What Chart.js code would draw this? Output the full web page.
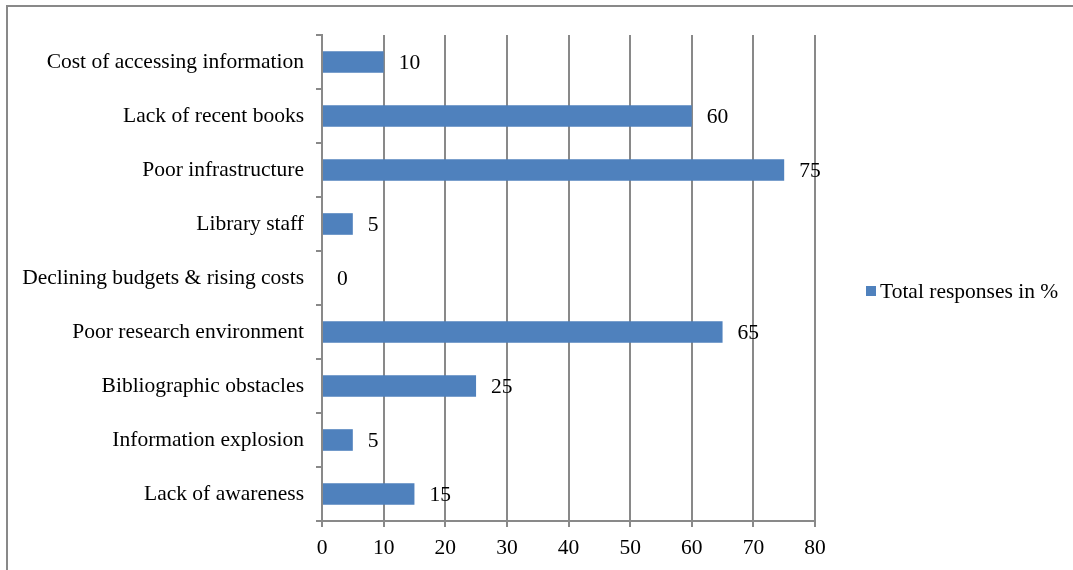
<!DOCTYPE html>
<html>
<head>
<meta charset="utf-8">
<script src="https://cdn.jsdelivr.net/npm/chart.js@4.4.1/dist/chart.umd.min.js"></script>
<style>
  html, body { margin: 0; padding: 0; background: #fff; overflow: hidden; }
  #frame { position: absolute; left: 6px; top: 5px; width: 1200px; height: 700px; border: 2px solid #898989; }
  #wrap { position: absolute; left: 0; top: 0; width: 1073px; height: 570px; }
</style>
</head>
<body>
<div id="frame"></div>
<div id="wrap"><canvas id="c" width="1073" height="570"></canvas></div>
<script>
const categories = [
  "Cost of accessing information",
  "Lack of recent books",
  "Poor infrastructure",
  "Library staff",
  "Declining budgets & rising costs",
  "Poor research environment",
  "Bibliographic obstacles",
  "Information explosion",
  "Lack of awareness"
];
const seriesName = "Total responses in %";
const seriesValues = [10, 60, 75, 5, 0, 65, 25, 5, 15];
const xTicks = [0, 10, 20, 30, 40, 50, 60, 70, 80];

const FONT = "'Liberation Serif', 'Times New Roman', serif";
const FSIZE = 21.5;
const GRID = '#898989';
const BAR = '#4F81BD';

const valueLabels = {
  id: 'valueLabels',
  afterDatasetsDraw(chart) {
    const ctx = chart.ctx;
    ctx.save();
    ctx.font = FSIZE + 'px ' + FONT;
    ctx.fillStyle = '#000';
    ctx.textBaseline = 'middle';
    ctx.textAlign = 'left';
    const meta = chart.getDatasetMeta(0);
    meta.data.forEach((el, i) => {
      const v = chart.data.datasets[0].data[i];
      ctx.fillText(String(v), el.x + 15, el.y + 1);
    });
    ctx.restore();
  }
};

const sideLegend = {
  id: 'sideLegend',
  afterDraw(chart) {
    const ctx = chart.ctx;
    const ds = chart.data.datasets[0];
    ctx.save();
    ctx.fillStyle = ds.backgroundColor;
    ctx.fillRect(866, 286, 10, 10);
    ctx.font = FSIZE + 'px ' + FONT;
    ctx.fillStyle = '#000';
    ctx.textBaseline = 'middle';
    ctx.textAlign = 'left';
    ctx.fillText(ds.label, 880, 292);
    ctx.restore();
  }
};

new Chart(document.getElementById('c'), {
  type: 'bar',
  data: {
    labels: categories,
    datasets: [{
      label: seriesName,
      data: seriesValues,
      backgroundColor: BAR,
      borderWidth: 0,
      barPercentage: 0.4,
      categoryPercentage: 1.0
    }]
  },
  options: {
    indexAxis: 'y',
    responsive: false,
    animation: false,
    devicePixelRatio: 1,
    layout: { padding: { left: 0, top: 35, right: 258, bottom: 0 } },
    plugins: {
      legend: { display: false },
      tooltip: { enabled: false }
    },
    scales: {
      x: {
        min: 0, max: 80,
        afterBuildTicks(s) { s.ticks = xTicks.map(v => ({ value: v })); },
        afterFit(s) { s.height = 570 - 521; },
        grid: { color: GRID, lineWidth: 2, drawTicks: true, tickLength: 6, tickColor: GRID },
        border: { color: GRID, width: 2 },
        ticks: { color: '#000', font: { family: FONT, size: FSIZE }, padding: 8, maxRotation: 0 }
      },
      y: {
        afterFit(s) { s.width = 322; },
        grid: { offset: true, drawOnChartArea: false, drawTicks: true, tickLength: 6, color: GRID, lineWidth: 2 },
        border: { color: GRID, width: 2 },
        ticks: { color: '#000', font: { family: FONT, size: FSIZE }, padding: 12 }
      }
    }
  },
  plugins: [valueLabels, sideLegend]
});
</script>
</body>
</html>
